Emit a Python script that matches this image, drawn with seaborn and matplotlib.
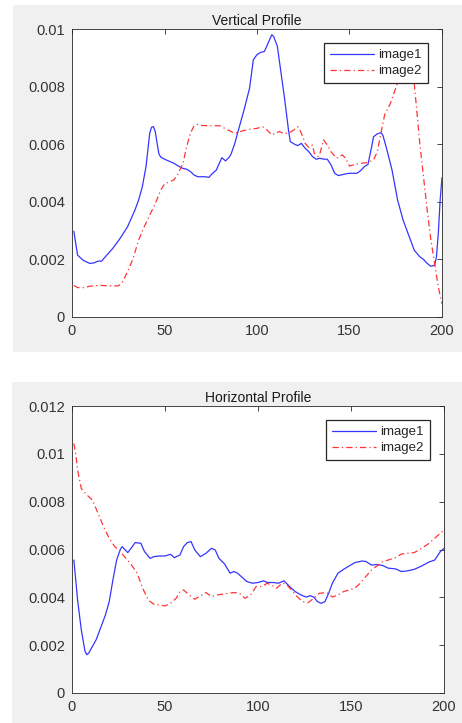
import matplotlib
matplotlib.use('Agg')
import matplotlib.pyplot as plt
from matplotlib.patches import Rectangle
from matplotlib.ticker import FuncFormatter
import seaborn as sns
import pandas as pd

# vertical profile, image1 (blue)
v1_x = [1, 3, 6, 9.6, 12, 14, 16, 18, 22, 26, 30, 34, 36, 38, 40, 41, 42, 43, 44, 45, 46, 47, 48, 50,
        55, 58, 60, 62, 64, 66, 68, 72, 74, 76, 78, 80, 81, 83, 85, 86, 88, 90, 93, 96, 98, 100, 102,
        104, 106, 108, 109, 111, 113, 115, 117, 118, 120, 122, 124, 126, 128, 130, 132, 134, 136, 138,
        140, 142, 144, 148, 150, 154, 156, 158, 160, 162, 163, 165, 167, 168, 170, 173, 176, 179, 182,
        185, 188, 190, 192, 194, 196, 197, 198, 199, 200]
v1_y = [2.98, 2.15, 1.97, 1.86, 1.88, 1.94, 1.94, 2.09, 2.38, 2.73, 3.13, 3.71, 4.06, 4.52, 5.22, 5.8,
        6.38, 6.59, 6.61, 6.44, 6.03, 5.66, 5.55, 5.48, 5.34, 5.22, 5.16, 5.13, 5.05, 4.93, 4.87, 4.87,
        4.85, 4.99, 5.10, 5.39, 5.53, 5.42, 5.55, 5.66, 6.03, 6.5, 7.19, 7.95, 8.93, 9.11, 9.19, 9.22,
        9.51, 9.8, 9.74, 9.40, 8.47, 7.54, 6.5, 6.09, 6.01, 5.95, 6.03, 5.86, 5.74, 5.57, 5.48, 5.51,
        5.48, 5.48, 5.28, 4.99, 4.91, 4.97, 4.99, 4.99, 5.08, 5.22, 5.30, 5.92, 6.26, 6.36, 6.40, 6.32,
        5.86, 5.10, 4.06, 3.36, 2.84, 2.32, 2.09, 2.0, 1.86, 1.76, 1.80, 2.09, 2.9, 4.06, 4.84]

# vertical profile, image2 (red)
v2_x = [1, 3, 6, 10, 15, 20, 25, 27, 30, 33, 36, 39, 42, 45, 48, 50, 53, 55, 57, 60, 62, 64, 66, 68,
        70, 75, 80, 84, 88, 92, 96, 100, 103, 106, 108, 110, 112, 114, 117, 120, 122, 124, 126, 128,
        130, 131, 133, 134, 136, 138, 140, 143, 146, 148, 150, 153, 157, 160, 163, 165, 167, 169, 172,
        175, 178, 181, 184, 185, 186, 188, 190, 192, 194, 196, 198, 200]
v2_y = [1.10, 1.02, 1.02, 1.07, 1.10, 1.08, 1.08, 1.18, 1.57, 2.03, 2.67, 3.13, 3.54, 3.94, 4.41, 4.62,
        4.70, 4.76, 4.93, 5.34, 5.92, 6.38, 6.64, 6.69, 6.65, 6.64, 6.64, 6.50, 6.38, 6.46, 6.52, 6.55,
        6.61, 6.46, 6.32, 6.38, 6.44, 6.38, 6.38, 6.50, 6.61, 6.38, 6.03, 5.89, 5.97, 5.68, 5.57, 5.68,
        6.15, 5.97, 5.74, 5.51, 5.63, 5.51, 5.24, 5.30, 5.34, 5.37, 5.45, 5.74, 6.38, 7.02, 7.40,
        7.95, 8.5, 8.8, 8.5, 8.1, 7.42, 6.03, 4.87, 3.71, 2.67, 1.86, 1.04, 0.46]

# horizontal profile, image1 (blue)
h1_x = [1, 2, 3, 5, 7, 8, 9, 11, 13, 15, 18, 20, 22, 24, 26, 27, 29, 30, 32, 34, 37, 39, 42, 44, 47,
        50, 53, 55, 58, 60, 62, 64, 66, 69, 72, 75, 77, 79, 82, 85, 87, 89, 91, 94, 97, 100, 103, 105,
        108, 111, 114, 117, 120, 123, 126, 128, 130, 132, 134, 136, 138, 140, 143, 146, 149, 152, 156,
        158, 161, 164, 167, 170, 174, 177, 180, 184, 188, 192, 195, 198, 200]
h1_y = [5.56, 4.73, 3.89, 2.64, 1.74, 1.60, 1.67, 1.95, 2.23, 2.64, 3.27, 3.82, 4.73, 5.56, 6.01, 6.12,
        5.95, 5.87, 6.08, 6.29, 6.26, 5.91, 5.63, 5.70, 5.73, 5.73, 5.80, 5.66, 5.77, 6.12, 6.29, 6.33,
        5.98, 5.70, 5.84, 6.05, 5.98, 5.63, 5.40, 5.01, 5.08, 5.01, 4.87, 4.66, 4.59, 4.62, 4.69, 4.62,
        4.62, 4.59, 4.69, 4.45, 4.24, 4.10, 4.01, 4.07, 4.01, 3.82, 3.75, 3.82, 4.17, 4.59, 5.01, 5.17,
        5.31, 5.45, 5.52, 5.50, 5.35, 5.37, 5.33, 5.22, 5.19, 5.08, 5.10, 5.17, 5.31, 5.48, 5.56, 5.91,
        6.05]

# horizontal profile, image2 (red)
h2_x = [1, 2, 3, 5, 8, 11, 14, 17, 20, 23, 26, 29, 32, 35, 38, 41, 44, 47, 50, 53, 56, 58, 60, 63, 66,
        69, 72, 75, 78, 81, 84, 87, 90, 93, 96, 99, 102, 105, 108, 110, 113, 115, 118, 121, 124, 127,
        130, 133, 137, 140, 143, 146, 149, 152, 155, 158, 161, 164, 167, 170, 174, 177, 180, 184, 188,
        192, 196, 200]
h2_y = [10.43, 10.01, 9.32, 8.55, 8.28, 8.07, 7.51, 6.95, 6.47, 6.12, 5.91, 5.63, 5.35, 5.01, 4.38,
        3.89, 3.71, 3.68, 3.64, 3.75, 3.96, 4.24, 4.31, 4.10, 3.92, 4.06, 4.20, 4.03, 4.10, 4.13, 4.17,
        4.20, 4.17, 3.96, 4.10, 4.45, 4.45, 4.59, 4.48, 4.38, 4.59, 4.56, 4.31, 4.03, 3.82, 3.78, 3.96,
        4.17, 4.20, 4.01, 4.10, 4.24, 4.31, 4.38, 4.59, 4.87, 5.15, 5.31, 5.49, 5.56, 5.66, 5.81, 5.84,
        5.87, 6.05, 6.26, 6.54, 6.82]

titles = ['Vertical Profile', 'Horizontal Profile']
labels = ['image1', 'image2']
x_ticks = [0, 50, 100, 150, 200]
y_ticks_top = [0, 0.002, 0.004, 0.006, 0.008, 0.01]
y_ticks_bottom = [0, 0.002, 0.004, 0.006, 0.008, 0.01, 0.012]

sns.set_theme(style='white')
plt.rcParams['font.family'] = ['Liberation Sans', 'DejaVu Sans']
plt.rcParams['axes.edgecolor'] = '#262626'
plt.rcParams['axes.linewidth'] = 0.6

fig = plt.figure(figsize=(4.62, 7.23), dpi=100)
fig.patch.set_facecolor('white')

# grey MATLAB-style figure panels
fig.add_artist(Rectangle((13 / 462, 1 - 352 / 723), 449 / 462, 347 / 723,
                         transform=fig.transFigure, facecolor='#f0f0f0', edgecolor='none', zorder=0))
fig.add_artist(Rectangle((12 / 462, 0), 450 / 462, 341 / 723,
                         transform=fig.transFigure, facecolor='#f0f0f0', edgecolor='none', zorder=0))

ax1 = fig.add_axes([72 / 462, 406 / 723, 370 / 462, 288 / 723])
ax2 = fig.add_axes([72 / 462, 30 / 723, 372 / 462, 287 / 723])

panels = [
    (ax1, v1_x, v1_y, v2_x, v2_y, y_ticks_top, (370, 288)),
    (ax2, h1_x, h1_y, h2_x, h2_y, y_ticks_bottom, (372, 287)),
]

for i, (ax, x1, y1, x2, y2, yt, (w, h)) in enumerate(panels):
    df1 = pd.DataFrame({'x': x1, 'y': [v / 1000 for v in y1]})
    df2 = pd.DataFrame({'x': x2, 'y': [v / 1000 for v in y2]})
    sns.lineplot(data=df1, x='x', y='y', color='#3535ff', linewidth=0.9, label=labels[0], ax=ax)
    sns.lineplot(data=df2, x='x', y='y', color='#ff3535', linewidth=0.9, label=labels[1], ax=ax)
    ax.lines[1].set_dashes([5, 2.5, 1, 2.5])

    ax.set_facecolor('white')
    ax.set_xlim(0, 200)
    ax.set_ylim(yt[0], yt[-1])
    ax.set_xticks(x_ticks)
    ax.set_yticks(yt)
    ax.yaxis.set_major_formatter(FuncFormatter(lambda v, p: f'{v:g}'))
    ax.set_xlabel('')
    ax.set_ylabel('')
    ax.tick_params(direction='in', length=3.5, width=0.6, colors='#262626',
                   labelsize=10.5, labelcolor='#333333', top=True, right=True, pad=5)
    ax.set_title(titles[i], fontsize=10, color='#1a1a1a', pad=3)
    for s in ax.spines.values():
        s.set_visible(True)

    leg = ax.legend(loc='upper right', bbox_to_anchor=(1 - 14 / w, 1 - 14 / h),
                    borderaxespad=0, fontsize=9.5, frameon=True, fancybox=False,
                    handlelength=3.3, handletextpad=0.35, borderpad=0.45, labelspacing=0.3)
    leg.get_frame().set_edgecolor('#262626')
    leg.get_frame().set_linewidth(0.9)
    leg.get_frame().set_alpha(1)
    leg.get_lines()[1].set_dashes([5, 2.5, 1, 2.5])

fig.savefig('out.png', dpi=100)
